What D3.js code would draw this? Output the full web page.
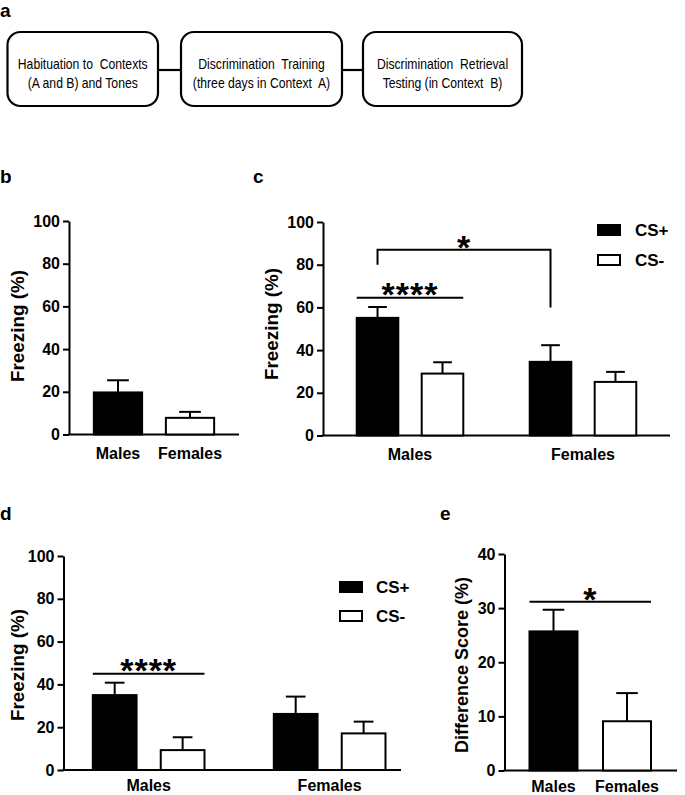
<!DOCTYPE html>
<html><head><meta charset="utf-8">
<script src="https://cdn.jsdelivr.net/npm/d3@7"></script>
<style>
html,body{margin:0;padding:0;background:#fff;}
text{font-family:"Liberation Sans",Arial,sans-serif;fill:#000;}
</style></head>
<body>
<svg id="fig" width="685" height="795"></svg>
<script>
// ---------- data ----------
const flowSteps = [
  ["Habituation to  Contexts", "(A and B) and Tones"],
  ["Discrimination  Training", "(three days in Context  A)"],
  ["Discrimination  Retrieval", "Testing (in Context  B)"]
];
const groups = ["Males", "Females"];
const series = ["CS+", "CS-"];
const freezingTicks = [0, 20, 40, 60, 80, 100];
const diffTicks = [0, 10, 20, 30, 40];

// panel b: habituation freezing
const bMean = [19.7, 7.8];
const bSem  = [5.7, 2.8];
// panel c: training
const cCSplus = [55.1, 34.5];
const cCSplusSem = [5.1, 7.8];
const cCSminus = [29.0, 25.1];
const cCSminusSem = [5.3, 4.7];
// panel d: retrieval
const dCSplus = [35.0, 26.2];
const dCSplusSem = [5.8, 8.1];
const dCSminus = [9.3, 17.1];
const dCSminusSem = [6.0, 5.5];
// panel e: difference score
const eMean = [25.7, 9.1];
const eSem  = [4.0, 5.2];

const svg = d3.select("#fig");
const FONT = "Liberation Sans, Arial, sans-serif";

function panelLabel(t, x, y) {
  svg.append("text").attr("x", x).attr("y", y).attr("font-size", 19)
    .attr("font-weight", "bold").text(t);
}

// ---------- panel a ----------
panelLabel("a", 0, 17);
const boxes = [[7.5, 158], [181, 342], [363, 522]];
boxes.forEach((b, i) => {
  svg.append("rect").attr("x", b[0]).attr("y", 32).attr("width", b[1] - b[0]).attr("height", 74)
    .attr("rx", 13).attr("ry", 13).attr("fill", "#fff").attr("stroke", "#000").attr("stroke-width", 2.2);
  const cx = (b[0] + b[1]) / 2;
  flowSteps[i].forEach((line, j) => {
    svg.append("text").attr("transform", `translate(${cx},${68.5 + j * 19}) scale(0.84,1)`)
      .attr("text-anchor", "middle")
      .attr("font-size", 14.5).style("white-space", "pre").attr("xml:space", "preserve").text(line);
  });
  if (i < boxes.length - 1) {
    svg.append("line").attr("x1", b[1]).attr("x2", boxes[i + 1][0]).attr("y1", 70).attr("y2", 70)
      .attr("stroke", "#000").attr("stroke-width", 2.2);
  }
});

// ---------- generic bar panel ----------
function barPanel(opt) {
  const g = svg.append("g");
  const y = d3.scaleLinear().domain(opt.domain).range([opt.y0, opt.y1]);
  const yAx = g.append("g").attr("transform", `translate(${opt.axX},0)`)
    .call(d3.axisLeft(y).tickValues(opt.ticks).tickSize(6).tickPadding(3).tickSizeOuter(0));
  yAx.select(".domain").attr("stroke-width", 2);
  yAx.selectAll(".tick line").attr("stroke-width", 2);
  yAx.selectAll("text").attr("font-size", 16).attr("font-weight", "bold").attr("font-family", FONT);
  g.append("line").attr("x1", opt.axX - 1).attr("x2", opt.axEnd).attr("y1", opt.y0).attr("y2", opt.y0)
    .attr("stroke", "#000").attr("stroke-width", 2);
  g.append("text").attr("transform", `translate(${opt.labX},${opt.labY}) rotate(-90)`)
    .attr("text-anchor", "middle").attr("font-size", 18).attr("font-weight", "bold")
    .attr("textLength", opt.labLen).attr("lengthAdjust", "spacingAndGlyphs").text(opt.ylabel);

  const xg = d3.scaleBand().domain(groups).range(opt.xRange)
    .paddingInner(opt.pi).paddingOuter(opt.po);
  let xs = null;
  if (opt.sets.length > 1) {
    xs = d3.scaleBand().domain(series).range([0, xg.bandwidth()]).paddingInner(opt.spi).paddingOuter(0);
  }
  const fills = ["#000", "#fff"];
  opt.sets.forEach((set, si) => {
    groups.forEach((grp, gi) => {
      let x0, w, fill;
      if (xs) { x0 = xg(grp) + xs(series[si]); w = xs.bandwidth(); fill = fills[si]; }
      else { x0 = xg(grp); w = xg.bandwidth(); fill = fills[gi]; }
      const m = set.mean[gi], s = set.sem[gi];
      const cx = x0 + w / 2;
      const cap = w * 0.45;
      g.append("line").attr("x1", cx).attr("x2", cx).attr("y1", y(m)).attr("y2", y(m + s))
        .attr("stroke", "#000").attr("stroke-width", 2);
      g.append("line").attr("x1", cx - cap / 2).attr("x2", cx + cap / 2).attr("y1", y(m + s)).attr("y2", y(m + s))
        .attr("stroke", "#000").attr("stroke-width", 2);
      g.append("rect").attr("x", x0).attr("y", y(m)).attr("width", w).attr("height", y(0) - y(m))
        .attr("fill", fill).attr("stroke", "#000").attr("stroke-width", 2);
    });
  });
  groups.forEach(grp => {
    g.append("text").attr("x", xg(grp) + xg.bandwidth() / 2).attr("y", opt.y0 + opt.xlabDy)
      .attr("text-anchor", "middle").attr("font-size", 16).attr("font-weight", "bold").text(grp);
  });
  return { g, y, xg, xs };
}

function stars(g, s, x, y) {
  g.append("text").attr("x", x).attr("y", y).attr("text-anchor", "middle")
    .attr("font-size", 34).attr("font-weight", "bold").attr("letter-spacing", 1).text(s);
}
function hline(g, x1, x2, y) {
  g.append("line").attr("x1", x1).attr("x2", x2).attr("y1", y).attr("y2", y)
    .attr("stroke", "#000").attr("stroke-width", 2);
}
function legend(x, y, gap, dx) {
  const fills = ["#000", "#fff"];
  series.forEach((s, i) => {
    svg.append("rect").attr("x", x).attr("y", y + i * gap - 5).attr("width", 22).attr("height", 10)
      .attr("fill", fills[i]).attr("stroke", "#000").attr("stroke-width", 2);
    svg.append("text").attr("x", x + dx).attr("y", y + i * gap + 6).attr("font-size", 17)
      .attr("font-weight", "bold").text(s);
  });
}

// ---------- panel b ----------
panelLabel("b", 0, 183);
barPanel({ domain: [0, 100], y0: 434.5, y1: 221, axX: 69, axEnd: 239, labX: 24, labY: 326, labLen: 112,
  ticks: freezingTicks, ylabel: "Freezing (%)", xRange: [69, 239], pi: 0.33, po: 0.345, xlabDy: 24,
  sets: [{ mean: bMean, sem: bSem }] });

// ---------- panel c ----------
panelLabel("c", 253, 183);
const pc = barPanel({ domain: [0, 100], y0: 435.5, y1: 222, axX: 323, axEnd: 670, labX: 278, labY: 324, labLen: 112,
  ticks: freezingTicks, ylabel: "Freezing (%)", xRange: [323, 670], pi: 0.384, po: 0.195, spi: 0.36, xlabDy: 24.5,
  sets: [{ mean: cCSplus, sem: cCSplusSem }, { mean: cCSminus, sem: cCSminusSem }] });
{
  const xL = pc.xg("Males") + pc.xs("CS+") + pc.xs.bandwidth() / 2;
  const xR = pc.xg("Females") + pc.xs("CS+") + pc.xs.bandwidth() / 2;
  const br = pc.y(87);
  pc.g.append("path").attr("d", `M${xL},${pc.y(80)}V${br}H${xR}V${pc.y(60)}`)
    .attr("fill", "none").attr("stroke", "#000").attr("stroke-width", 2);
  stars(pc.g, "*", (xL + xR) / 2, br + 9);
  const x1 = pc.xg("Males"), x2 = pc.xg("Males") + pc.xg.bandwidth();
  hline(pc.g, x1, x2, pc.y(64.5));
  stars(pc.g, "****", (x1 + x2) / 2, pc.y(64.5) + 8);
}
legend(598, 230, 30, 37);

// ---------- panel d ----------
panelLabel("d", 0, 520);
const pd = barPanel({ domain: [0, 100], y0: 770, y1: 556, axX: 63.5, axEnd: 401, labX: 24, labY: 665, labLen: 112,
  ticks: freezingTicks, ylabel: "Freezing (%)", xRange: [63.5, 414.8], pi: 0.383, po: 0.162, spi: 0.356, xlabDy: 21,
  sets: [{ mean: dCSplus, sem: dCSplusSem }, { mean: dCSminus, sem: dCSminusSem }] });
{
  const x1 = pd.xg("Males"), x2 = pd.xg("Males") + pd.xg.bandwidth();
  hline(pd.g, x1, x2, pd.y(45));
  stars(pd.g, "****", (x1 + x2) / 2, pd.y(45) + 8);
}
legend(340, 587, 29, 36);

// ---------- panel e ----------
panelLabel("e", 440, 520);
const pe = barPanel({ domain: [0, 40], y0: 770.5, y1: 554, axX: 504.5, axEnd: 677, labX: 468, labY: 665, labLen: 176,
  ticks: diffTicks, ylabel: "Difference Score (%)", xRange: [504.5, 676], pi: 0.347, po: 0.34, xlabDy: 21,
  sets: [{ mean: eMean, sem: eSem }] });
{
  const x1 = pe.xg("Males"), x2 = pe.xg("Females") + pe.xg.bandwidth();
  hline(pe.g, x1, x2, pe.y(31.2));
  stars(pe.g, "*", (x1 + x2) / 2, pe.y(31.2) + 9);
}
</script>
</body></html>
